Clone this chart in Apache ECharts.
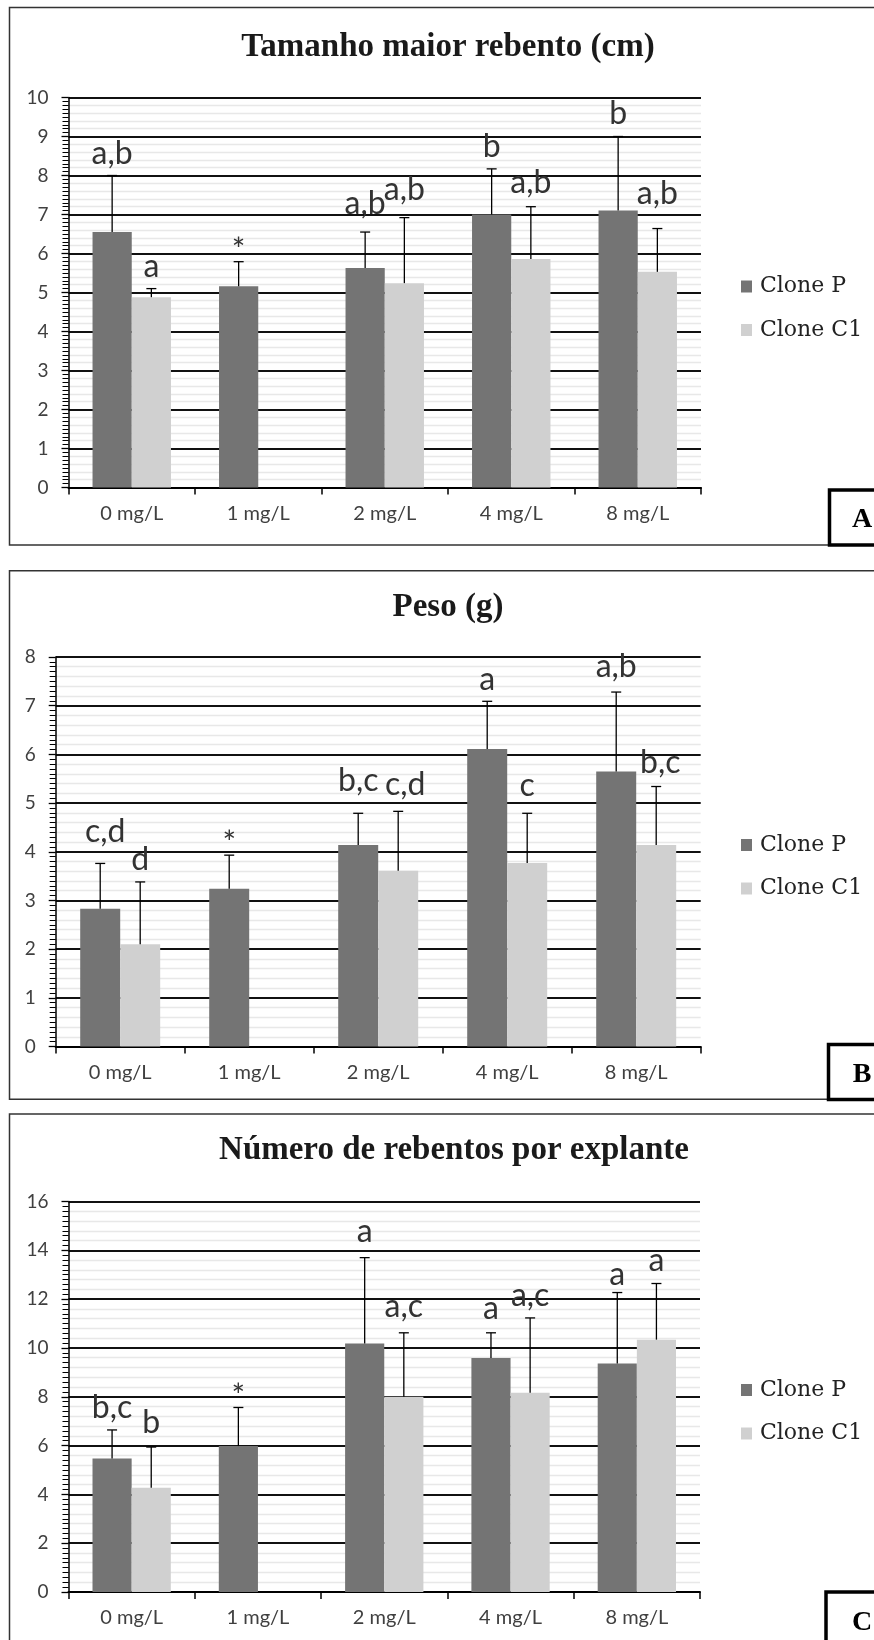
<!DOCTYPE html>
<html>
<head>
<meta charset="utf-8">
<script src="https://cdn.jsdelivr.net/npm/echarts@6/dist/echarts.min.js"></script>
<style>
  html, body { margin: 0; padding: 0; background: #fff; }
  #chart { width: 874px; height: 1640px; }
</style>
</head>
<body>
<div id="chart"></div>
<script>
// ---- data ---------------------------------------------------------------
const categories = ['0 mg/L', '1 mg/L', '2 mg/L', '4 mg/L', '8 mg/L'];
const seriesNames = ['Clone P', 'Clone C1'];

// A: Tamanho maior rebento (cm)
const lengthTicks = [0, 1, 2, 3, 4, 5, 6, 7, 8, 9, 10];
const lengthP = [6.55, 5.16, 5.63, 7.0, 7.1];
const lengthC1 = [4.88, null, 5.24, 5.86, 5.53];
const lengthSdP = [1.45, 0.63, 0.92, 1.17, 1.9];
const lengthSdC1 = [0.22, null, 1.68, 1.34, 1.11];
const lengthTagsP = ['a,b', '*', 'a,b', 'b', 'b'];
const lengthTagsC1 = ['a', '', 'a,b', 'a,b', 'a,b'];

// B: Peso (g)
const weightTicks = [0, 1, 2, 3, 4, 5, 6, 7, 8];
const weightP = [2.83, 3.24, 4.14, 6.11, 5.65];
const weightC1 = [2.10, null, 3.61, 3.77, 4.14];
const weightSdP = [0.93, 0.69, 0.65, 0.98, 1.63];
const weightSdC1 = [1.28, null, 1.22, 1.02, 1.20];
const weightTagsP = ['c,d', '*', 'b,c', 'a', 'a,b'];
const weightTagsC1 = ['d', '', 'c,d', 'c', 'b,c'];

// C: Número de rebentos por explante
const countTicks = [0, 2, 4, 6, 8, 10, 12, 14, 16];
const countP = [5.47, 5.98, 10.18, 9.59, 9.36];
const countC1 = [4.27, null, 8.0, 8.16, 10.34];
const countSdP = [1.17, 1.58, 3.52, 1.03, 2.91];
const countSdC1 = [1.67, null, 2.62, 3.07, 2.30];
const countTagsP = ['b,c', '*', 'a', 'a', 'a'];
const countTagsC1 = ['b', '', 'a,c', 'a,c', 'a'];

// ---- look ---------------------------------------------------------------
const COLOR_P = '#747474';
const COLOR_C1 = '#d0d0d0';
const CAT_GAP = 0.38;
const SANS = 'Lato, "Open Sans", sans-serif';
const SERIF = '"Liberation Serif", "Times New Roman", serif';

// extra lift / sideways shift (px) for letters that would otherwise collide
const tagNudge = {
  A: { P: [[0, 0], [0, 0], [0, 6], [0, 0], [0, 1]], C1: [[0, 0], [0, 0], [0, 6], [0, 2], [0, 13]] },
  B: { P: [[5, 10], [0, 0], [0, 11], [0, 0], [0, 3]], C1: [[0, 0], [0, 0], [7, 5], [0, 6], [4, 2]] },
  C: { P: [[0, 0], [0, 0], [0, 4], [0, 2], [0, -4]], C1: [[0, 2], [0, 0], [0, 4], [0, 0], [0, 1]] }
};

const panels = [
  { key: 'A', title: 'Tamanho maior rebento (cm)', ticks: lengthTicks,
    P: lengthP, C1: lengthC1, sdP: lengthSdP, sdC1: lengthSdC1, tagsP: lengthTagsP, tagsC1: lengthTagsC1,
    grid: { left: 68.5, top: 97.5, width: 632.5, height: 390 },
    titleX: 448, titleY: 47, legendTop: 275.5, frame: [7.5, 545], box: [829.5, 490, 55], boxLetterY: 520 },
  { key: 'B', title: 'Peso (g)', ticks: weightTicks,
    P: weightP, C1: weightC1, sdP: weightSdP, sdC1: weightSdC1, tagsP: weightTagsP, tagsC1: weightTagsC1,
    grid: { left: 55.7, top: 657, width: 645, height: 389.5 },
    titleX: 448, titleY: 607, legendTop: 834, frame: [570.7, 1099.3], box: [828.5, 1044.5, 55], boxLetterY: 1075 },
  { key: 'C', title: 'Número de rebentos por explante', ticks: countTicks,
    P: countP, C1: countC1, sdP: countSdP, sdC1: countSdC1, tagsP: countTagsP, tagsC1: countTagsC1,
    grid: { left: 68.5, top: 1201.5, width: 631.5, height: 390.5 },
    titleX: 454, titleY: 1150, legendTop: 1379, frame: [1114, 1660], box: [826, 1592, 60], boxLetterY: 1623 }
];

// error bar + significance letter for one clone, drawn next to its bar
function errorSeries(panel, gi, side, means, sds, tags, nudges) {
  const data = [];
  means.forEach((m, i) => { if (m != null) data.push([i, m, m + sds[i]]); });
  return {
    type: 'custom',
    xAxisIndex: gi, yAxisIndex: gi * 2,
    z: 5, clip: false, silent: true,
    encode: { x: 0, y: [1, 2] },
    data: data,
    renderItem: function (params, api) {
      const ci = api.value(0);
      const base = api.coord([ci, api.value(1)]);
      const top = api.coord([ci, api.value(2)]);
      const band = api.size([1, 0])[0];
      const bw = band * (1 - CAT_GAP) / 2;
      const x = base[0] + side * bw / 2;
      const tag = tags[ci];
      const nd = nudges[ci];
      const star = tag === '*';
      const children = [
        { type: 'line', shape: { x1: x, y1: base[1], x2: x, y2: top[1] },
          style: { stroke: '#000', lineWidth: 1.3 } },
        { type: 'line', shape: { x1: x - 5, y1: top[1], x2: x + 5, y2: top[1] },
          style: { stroke: '#000', lineWidth: 1.3 } }
      ];
      if (tag) {
        children.push({
          type: 'text',
          style: {
            text: tag,
            x: x + nd[0],
            y: top[1] - (star ? -5 : 6) - nd[1],
            align: 'center', verticalAlign: 'bottom',
            fontFamily: SANS, fontSize: star ? 32 : 32,
            fill: '#333'
          }
        });
      }
      return { type: 'group', children: children };
    }
  };
}

const grids = [], xAxes = [], yAxes = [], series = [], legends = [], graphics = [];

panels.forEach((p, gi) => {
  grids.push(p.grid);
  xAxes.push({
    type: 'category', gridIndex: gi, data: categories,
    axisLine: { lineStyle: { color: '#000', width: 2 } },
    axisTick: { show: true, length: 7, lineStyle: { color: '#000', width: 1.5 } },
    axisLabel: { margin: 16, fontFamily: SANS, fontSize: 20, color: '#404040' },
    splitLine: { show: false }
  });
  const tmin = p.ticks[0], tmax = p.ticks[p.ticks.length - 1], step = p.ticks[1] - p.ticks[0];
  // main axis: labels, ticks and the dark grid lines
  yAxes.push({
    type: 'value', gridIndex: gi, min: tmin, max: tmax, interval: step,
    axisLine: { show: true, lineStyle: { color: '#000', width: 1.5 } },
    axisTick: { show: true, length: 7, lineStyle: { color: '#000', width: 1.3 } },
    minorTick: { show: true, splitNumber: 10, length: 6, lineStyle: { color: '#000', width: 1 } },
    splitLine: { show: true, lineStyle: { color: '#111', width: 1.8 } },
    axisLabel: { margin: 20, fontFamily: SANS, fontSize: 19, color: '#404040' }
  });
  // companion axis: only the faint minor grid lines
  yAxes.push({
    type: 'value', gridIndex: gi, min: tmin, max: tmax, interval: step, position: 'left',
    axisLine: { show: false }, axisTick: { show: false }, axisLabel: { show: false },
    splitLine: { show: false },
    minorTick: { show: false, splitNumber: 5 },
    minorSplitLine: { show: true, lineStyle: { color: '#e8e8e8', width: 1.3 } }
  });

  series.push({
    name: seriesNames[0], type: 'bar', xAxisIndex: gi, yAxisIndex: gi * 2,
    data: p.P.map(v => v == null ? '-' : v),
    barGap: '0%', barCategoryGap: (CAT_GAP * 100) + '%',
    itemStyle: { color: COLOR_P }, silent: true
  });
  series.push({
    name: seriesNames[1], type: 'bar', xAxisIndex: gi, yAxisIndex: gi * 2,
    data: p.C1.map(v => v == null ? '-' : v),
    barGap: '0%', barCategoryGap: (CAT_GAP * 100) + '%',
    itemStyle: { color: COLOR_C1 }, silent: true
  });
  series.push(errorSeries(p, gi, -1, p.P, p.sdP, p.tagsP, tagNudge[p.key].P));
  series.push(errorSeries(p, gi, 1, p.C1, p.sdC1, p.tagsC1, tagNudge[p.key].C1));

  legends.push({
    data: seriesNames, orient: 'vertical', left: 741, top: p.legendTop,
    padding: 0, itemGap: 21.5, itemWidth: 11, itemHeight: 12, icon: 'rect',
    selectedMode: false,
    textStyle: { fontFamily: '"DejaVu Serif", serif', fontSize: 22, lineHeight: 22, color: '#222',
                 padding: [0, 0, 0, 3] }
  });

  // panel frame
  graphics.push({
    type: 'rect', z: 1,
    shape: { x: 9.5, y: p.frame[0], width: 900, height: p.frame[1] - p.frame[0] },
    style: { fill: 'none', stroke: '#333', lineWidth: 1.5 }
  });
  // title
  graphics.push({
    type: 'text', z: 10,
    style: { text: p.title, x: p.titleX, y: p.titleY, align: 'center', verticalAlign: 'middle',
             fontFamily: SERIF, fontWeight: 'bold', fontSize: 33, fill: '#1a1a1a' }
  });
  // panel letter box
  graphics.push({
    type: 'rect', z: 10,
    shape: { x: p.box[0], y: p.box[1], width: 80, height: p.box[2] },
    style: { fill: '#fff', stroke: '#000', lineWidth: 3.5 }
  });
  graphics.push({
    type: 'text', z: 11,
    style: { text: p.key, x: 862, y: p.boxLetterY, align: 'center', verticalAlign: 'middle',
             fontFamily: SERIF, fontWeight: 'bold', fontSize: 28, fill: '#000' }
  });
});

const chart = echarts.init(document.getElementById('chart'));
chart.setOption({
  animation: false,
  backgroundColor: '#fff',
  grid: grids,
  xAxis: xAxes,
  yAxis: yAxes,
  legend: legends,
  series: series,
  graphic: graphics
});
</script>
</body>
</html>
